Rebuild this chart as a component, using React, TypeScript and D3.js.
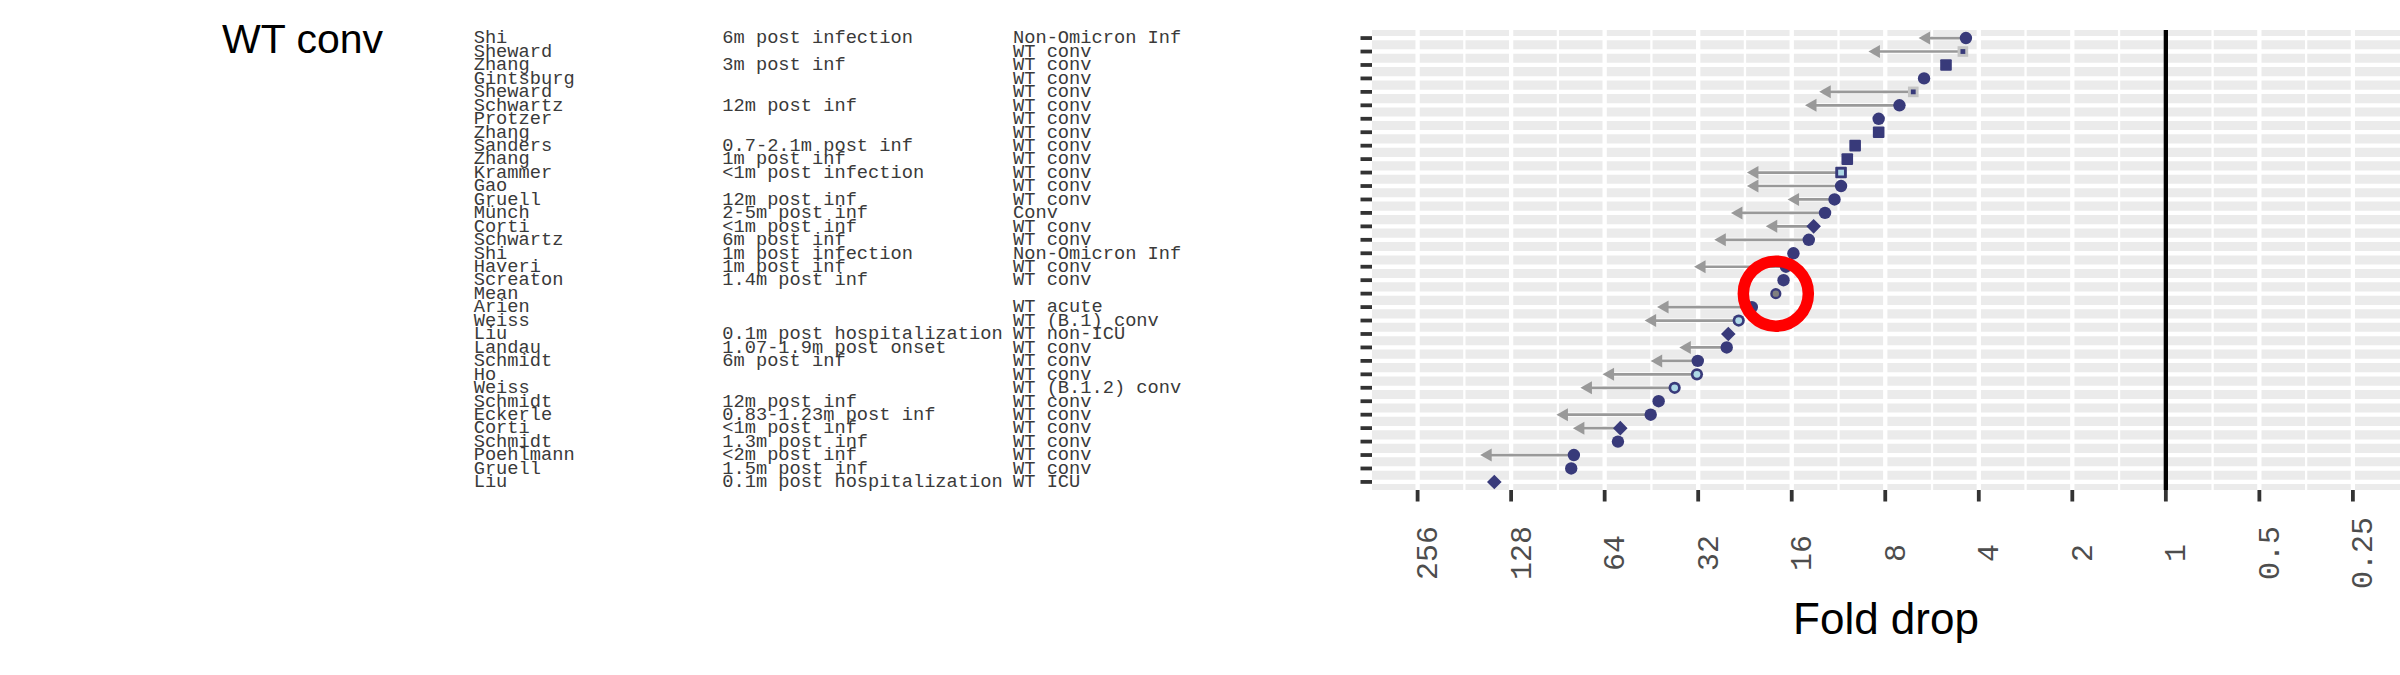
import React from "react";
import * as d3 from "d3";

const authors = ["Shi","Sheward","Zhang","Gintsburg","Sheward","Schwartz","Protzer","Zhang","Sanders","Zhang","Krammer","Gao","Gruell","Münch","Corti","Schwartz","Shi","Haveri","Screaton","Mean","Arien","Weiss","Liu","Landau","Schmidt","Ho","Weiss","Schmidt","Eckerle","Corti","Schmidt","Poehlmann","Gruell","Liu"];
const timing = ["6m post infection","","3m post inf","","","12m post inf","","","0.7-2.1m post inf","1m post inf","<1m post infection","","12m post inf","2-5m post inf","<1m post inf","6m post inf","1m post infection","1m post inf","1.4m post inf","","","","0.1m post hospitalization","1.07-1.9m post onset","6m post inf","","","12m post inf","0.83-1.23m post inf","<1m post inf","1.3m post inf","<2m post inf","1.5m post inf","0.1m post hospitalization"];
const cohort = ["Non-Omicron Inf","WT conv","WT conv","WT conv","WT conv","WT conv","WT conv","WT conv","WT conv","WT conv","WT conv","WT conv","WT conv","Conv","WT conv","WT conv","Non-Omicron Inf","WT conv","WT conv","","WT acute","WT (B.1) conv","WT non-ICU","WT conv","WT conv","WT conv","WT (B.1.2) conv","WT conv","WT conv","WT conv","WT conv","WT conv","WT conv","WT ICU"];
const foldDrop = [4.4,4.5,5.1,6.0,6.5,7.2,8.4,8.4,10.0,10.6,11.1,11.1,11.65,12.5,13.6,14.1,15.8,16.7,17.0,18.0,21.5,23.7,25.6,25.9,32.1,32.3,38.1,42.9,45.5,57.0,58.0,80.4,82.0,145];
const arrowTo: (number | null)[] = [6.25,9.06,null,null,13.05,14.5,null,null,null,null,22.3,22.3,16.5,25.1,19.4,28.4,null,33,null,null,43.4,47.6,null,36.8,45.5,65,76.6,null,91.5,81,null,161,null,null];
const shapes = ["circle","sqGray","square","circle","sqGray","circle","circle","square","square","square","sqLight","circle","circle","circle","diamond","circle","circle","circle","circle","mean","circle","circLight","diamond","circle","circle","circLight","circLight","circle","circle","diamond","circle","circle","circle","diamond"];
const xTicks = [256,128,64,32,16,8,4,2,1,0.5,0.25];
const xTickLabels = ["256","128","64","32","16","8","4","2","1","0.5","0.25"];
const highlightLabel = "Mean";

const W = 2400, H = 675;
const PANEL = { left: 1372, right: 2400, top: 30, bottom: 490 };
const NAVY = "#383a7a";
const GRID = "#ffffff";
const ARROW = "#999999";

export default function App() {
  const x = d3.scaleLog().base(2).domain([256, 0.25]).range([1417.6, 2352.9]);
  const y = d3.scalePoint<number>().domain(d3.range(authors.length)).range([PANEL.top, PANEL.bottom]).padding(0.6);
  const minor: number[] = [];
  for (let k = -4; k <= 10; k++) {
    const v = Math.pow(2, k + 0.5);
    const px = x(v);
    if (px > PANEL.left + 1 && px < PANEL.right - 1) minor.push(px);
  }
  const hi = authors.indexOf(highlightLabel);
  const mono = "'Liberation Mono', 'DejaVu Sans Mono', monospace";
  const sans = "'Liberation Sans', Arial, sans-serif";

  const marker = (shape: string, cx: number, cy: number, i: number) => {
    switch (shape) {
      case "square":
        return <rect key={i} x={cx - 5.8} y={cy - 5.8} width={11.6} height={11.6} rx={1} fill={NAVY} />;
      case "sqGray":
        return <g key={i}><rect x={cx - 5.3} y={cy - 5.3} width={10.6} height={10.6} fill="#c4c4c4" /><rect x={cx - 2.4} y={cy - 2.4} width={4.8} height={4.8} fill={NAVY} /></g>;
      case "sqLight":
        return <g key={i}><rect x={cx - 5.8} y={cy - 5.8} width={11.6} height={11.6} rx={1} fill={NAVY} /><rect x={cx - 2.9} y={cy - 2.9} width={5.8} height={5.8} fill="#add8e6" /></g>;
      case "diamond":
        return <path key={i} d={`M${cx},${cy - 7.3}L${cx + 7.3},${cy}L${cx},${cy + 7.3}L${cx - 7.3},${cy}Z`} fill={NAVY} />;
      case "circLight":
        return <g key={i}><circle cx={cx} cy={cy} r={6.1} fill={NAVY} /><circle cx={cx} cy={cy} r={3.4} fill="#add8e6" /></g>;
      case "mean":
        return <g key={i}><circle cx={cx} cy={cy} r={5.6} fill={NAVY} /><circle cx={cx} cy={cy} r={3.2} fill="#808080" /></g>;
      default:
        return <circle key={i} cx={cx} cy={cy} r={6.2} fill={NAVY} />;
    }
  };

  return (
    <svg width={W} height={H} style={{ position: "absolute", left: 0, top: 0, display: "block", background: "#fff" }}>
      <text x={222} y={53} fontFamily={sans} fontSize={41} fill="#000">WT conv</text>
      {authors.map((a, i) => (
        <g key={"t" + i} fontFamily={mono} fontSize={18.7} fill="#3a3a3a">
          <text x={473.7} y={(y(i) as number) + 5.3}>{a}</text>
          <text x={722.3} y={(y(i) as number) + 5.3}>{timing[i]}</text>
          <text x={1013} y={(y(i) as number) + 5.3}>{cohort[i]}</text>
        </g>
      ))}
      <rect x={PANEL.left} y={PANEL.top} width={PANEL.right - PANEL.left} height={PANEL.bottom - PANEL.top} fill="#ebebeb" />
      {authors.map((_, i) => (
        <line key={"hg" + i} x1={PANEL.left} x2={PANEL.right} y1={y(i)} y2={y(i)} stroke={GRID} strokeWidth={4.3} />
      ))}
      {minor.map((px, i) => (
        <line key={"mn" + i} x1={px} x2={px} y1={PANEL.top} y2={PANEL.bottom} stroke={GRID} strokeWidth={2.3} />
      ))}
      {xTicks.map((t, i) => (
        <line key={"mj" + i} x1={x(t)} x2={x(t)} y1={PANEL.top} y2={PANEL.bottom} stroke={GRID} strokeWidth={4.3} />
      ))}
      <line x1={x(1)} x2={x(1)} y1={PANEL.top} y2={PANEL.bottom} stroke="#000" strokeWidth={4.3} />
      {arrowTo.map((t, i) => {
        if (t == null) return null;
        const cy = y(i) as number;
        const x0 = x(foldDrop[i]);
        const tx = x(t);
        return (
          <g key={"ar" + i}>
            <line x1={x0} x2={tx + 4} y1={cy} y2={cy} stroke={ARROW} strokeWidth={2.7} />
            <path d={`M${tx},${cy}L${tx + 11.5},${cy - 6.5}L${tx + 11.5},${cy + 6.5}Z`} fill={ARROW} />
          </g>
        );
      })}
      {foldDrop.map((v, i) => marker(shapes[i], x(v), y(i) as number, i))}
      {hi >= 0 && (
        <circle cx={x(foldDrop[hi])} cy={y(hi)} r={32.5} fill="none" stroke="#ff0000" strokeWidth={11.5} />
      )}
      {authors.map((_, i) => (
        <line key={"yt" + i} x1={PANEL.left - 11.5} x2={PANEL.left} y1={y(i)} y2={y(i)} stroke="#333" strokeWidth={3.8} />
      ))}
      {xTicks.map((t, i) => (
        <g key={"xt" + i}>
          <line x1={x(t)} x2={x(t)} y1={PANEL.bottom} y2={PANEL.bottom + 11.5} stroke="#333" strokeWidth={3.8} />
          <text transform={`translate(${x(t) + 9},553) rotate(-90)`} textAnchor="middle" dy="0.35em" fontFamily={mono} fontSize={30} fill="#4d4d4d">{xTickLabels[i]}</text>
        </g>
      ))}
      <text x={(PANEL.left + PANEL.right) / 2} y={634} textAnchor="middle" fontFamily={sans} fontSize={44} fill="#000">Fold drop</text>
    </svg>
  );
}
